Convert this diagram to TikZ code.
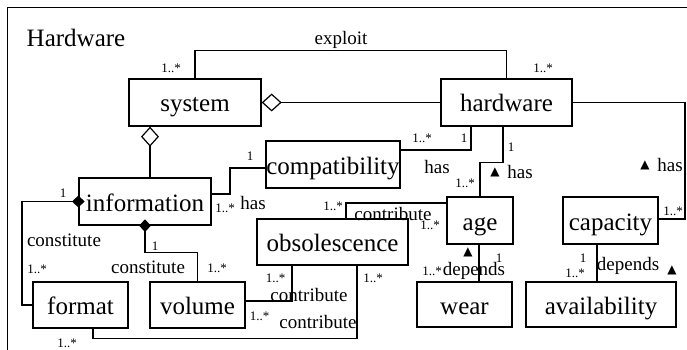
\documentclass[tikz,border=0pt]{standalone}
\usepackage{fontspec}
\setmainfont{Liberation Serif}
\newfontfamily\symfont{DejaVu Sans}
\usetikzlibrary{arrows.meta}
\tikzset{
  cls/.style={draw, line width=1.3pt, inner sep=0pt, text height=21pt, text depth=2pt, font=\fontsize{25}{28}\selectfont},
  conn/.style={line width=1.2pt},
  agg/.style={conn, -{Diamond[open,length=20pt,width=18pt,line width=1.2pt]}},
  comp/.style={conn, -{Diamond[length=12.5pt,width=12pt]}, shorten >=-6.25pt},
  lbl/.style={inner sep=0pt, font=\fontsize{19}{22}\selectfont},
  mult/.style={inner sep=0pt, font=\fontsize{13}{15}\selectfont},
  tri/.style={inner sep=0pt, font=\symfont\fontsize{12}{14}\selectfont},
}
\begin{document}
\begin{tikzpicture}[x=1pt,y=-1pt]
\useasboundingbox (0,0) rectangle (687,350);
% frame
\draw[line width=1pt] (7,352) -- (7,8) -- (690,8);
\node[inner sep=0pt, font=\fontsize{25}{28}\selectfont] (title) at (76,38) {Hardware};

% classes
\node[cls, minimum width=132pt, minimum height=47pt] (system) at (195,102.5) {system};
\node[cls, minimum width=131pt, minimum height=47pt] (hardware) at (506.5,102.5) {hardware};
\node[cls, minimum width=132pt, minimum height=47pt] (information) at (145,201.5) {information};
\node[cls, minimum width=134pt, minimum height=47pt] (compatibility) at (333,164.5) {compatibility};
\node[cls, minimum width=151pt, minimum height=46pt] (obsolescence) at (332.5,242) {obsolescence};
\node[cls, minimum width=66pt, minimum height=47pt] (age) at (480,220.5) {age};
\node[cls, minimum width=95pt, minimum height=47pt] (capacity) at (610.5,220.5) {capacity};
\node[cls, minimum width=95pt, minimum height=46pt] (format) at (80.5,305) {format};
\node[cls, minimum width=95pt, minimum height=46pt] (volume) at (197.5,305) {volume};
\node[cls, minimum width=95pt, minimum height=45pt] (wear) at (464.5,304.5) {wear};
\node[cls, minimum width=150pt, minimum height=45pt] (availability) at (601,304.5) {availability};

% exploit
\draw[conn] (system.north) -- ++(0,-28) -| (hardware.north);
\node[lbl] (lexploit) at (341,40) {exploit};
\node[mult] (m1) at (171,68) {1..*};
\node[mult] (m2) at (543,68) {1..*};

% aggregations
\draw[agg] (hardware.west) -- (system.east);
\draw[agg] ([xshift=5pt]information.north) -- ([xshift=5pt]information.north |- system.south);

% information - compatibility
\draw[conn] ([yshift=7.5pt]information.east) -| (230,168) -- ([yshift=-3.5pt]compatibility.west);
\node[mult] (m3) at (250,156) {1};
\node[mult] (m4) at (225,208) {1..*};
\node[lbl] (lhas1) at (253,203) {has};

% compatibility - hardware
\draw[conn] ([yshift=14.5pt]compatibility.east) -| ([xshift=-35.5pt]hardware.south);
\node[mult] (m5) at (422,138) {1..*};
\node[mult] (m6) at (464,138) {1};
\node[lbl] (lhas2) at (437,167) {has};

% hardware - age
\draw[conn] ([xshift=-3.5pt]hardware.south) -- ++(0,36) -| (age.north);
\node[mult] (m7) at (511,147) {1};
\node[mult] (m8) at (465,183) {1..*};
\node[tri] (t1) at (495,172) {▲};
\node[lbl] (lhas3) at (520,172) {has};

% hardware - capacity
\draw[conn] (hardware.east) -- (685,102.5) |- ([yshift=1.5pt]capacity.east);
\node[tri] (t2) at (645,165) {▲};
\node[lbl] (lhas4) at (670,165) {has};
\node[mult] (m9) at (673,211) {1..*};

% age - wear
\draw[conn] ([xshift=-1pt]age.south) -- ([xshift=-1pt]age.south |- wear.north);
\node[tri] (t3) at (468,252) {▲};
\node[mult] (m10) at (499,258) {1};
\node[mult] (m11) at (432,271) {1..*};
\node[lbl] (ldep1) at (474,271) {depends};

% capacity - availability
\draw[conn] ([xshift=-13.5pt]capacity.south) -- ([xshift=-13.5pt]capacity.south |- availability.north);
\node[mult] (m12) at (583,258) {1};
\node[mult] (m13) at (575,273) {1..*};
\node[lbl] (ldep2) at (628,266) {depends};
\node[tri] (t4) at (672,270) {▲};

% age - obsolescence
\draw[conn] ([yshift=17.5pt]age.west) -| ([xshift=13.5pt]obsolescence.north);
\node[mult] (m14) at (333,206) {1..*};
\node[lbl] (lcon1) at (393,214) {contribute};
\node[mult] (m15) at (430,225) {1..*};

% volume - obsolescence
\draw[conn] ([yshift=4pt]volume.east) -| ([xshift=-40.5pt]obsolescence.south);
\node[mult] (m16) at (275.5,278) {1..*};
\node[lbl] (lcon2) at (309,295) {contribute};
\node[mult] (m17) at (259.5,316) {1..*};
\node[lbl] (lcon3) at (318,322) {contribute};

% format - obsolescence
\draw[conn] ([xshift=12.5pt]format.south) -- ++(0,10) -| ([xshift=24.5pt]obsolescence.south);
\node[mult] (m18) at (373,278) {1..*};
\node[mult] (m19) at (67,343) {1..*};

% information - format (composition)
\draw[comp] (format.west) -- (22,305) |- (information.west);
\node[mult] (m20) at (63,193) {1};
\node[lbl] (lcst1) at (64,240) {constitute};
\node[mult] (m21) at (37,269) {1..*};

% information - volume (composition)
\draw[comp] (volume.north) -- ++(0,-29) -| (information.south);
\node[mult] (m22) at (155,246) {1};
\node[lbl] (lcst2) at (148,267) {constitute};
\node[mult] (m23) at (217,268) {1..*};
\end{tikzpicture}
\end{document}
